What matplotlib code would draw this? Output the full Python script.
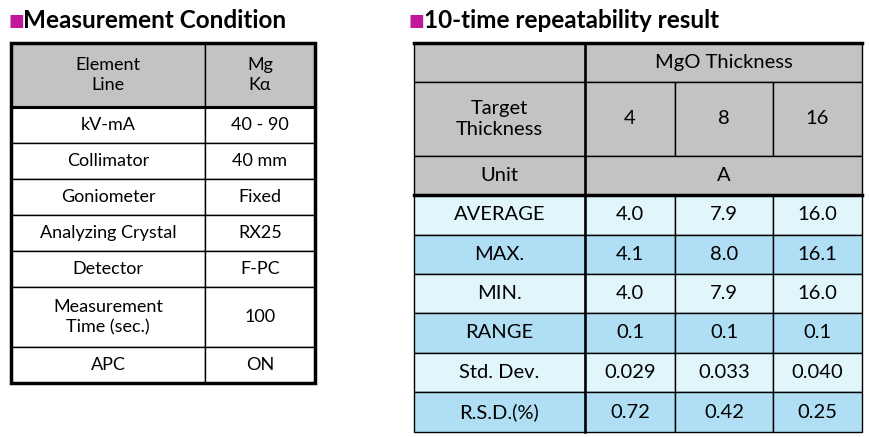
import matplotlib
matplotlib.use('Agg')
import matplotlib.pyplot as plt
from matplotlib.patches import Rectangle

# left table data
cond_labels = ['Element\nLine', 'kV-mA', 'Collimator', 'Goniometer',
               'Analyzing Crystal', 'Detector', 'Measurement\nTime (sec.)', 'APC']
cond_values = ['Mg\nK\u03b1', '40 - 90', '40 mm', 'Fixed', 'RX25', 'F-PC', '100', 'ON']

# right table data
thickness_targets = ['4', '8', '16']
unit = 'A'
stat_names = ['AVERAGE', 'MAX.', 'MIN.', 'RANGE', 'Std. Dev.', 'R.S.D.(%)']
stat_values = [
    ['4.0', '7.9', '16.0'],
    ['4.1', '8.0', '16.1'],
    ['4.0', '7.9', '16.0'],
    ['0.1', '0.1', '0.1'],
    ['0.029', '0.033', '0.040'],
    ['0.72', '0.42', '0.25'],
]

GRAY = '#c3c3c3'
LIGHT = '#e1f6fb'
BLUE = '#b0def4'
FONT = 'Lato'

fig = plt.figure(figsize=(8.7, 4.37), dpi=100)
ax = fig.add_axes([0, 0, 1, 1])
ax.set_xlim(0, 870)
ax.set_ylim(437, 0)
ax.axis('off')


def cell(x0, y0, x1, y1, text, color, lw=1.0, size=14.5):
    ax.add_patch(Rectangle((x0, y0), x1 - x0, y1 - y0, facecolor=color,
                           edgecolor='black', linewidth=lw))
    ax.text((x0 + x1) / 2, (y0 + y1) / 2, text, ha='center', va='center',
            fontsize=size, family=FONT, linespacing=1.3)


def title(x, y, text):
    ax.text(x, y, '\u25a0', color='#c0189a', fontsize=12, va='center', ha='left')
    ax.text(x + 15, y, text, fontsize=17.5, fontweight='bold', family=FONT,
            va='center', ha='left')


title(8, 21, 'Measurement Condition')
title(409, 21, '10-time repeatability result')

# left table
lx = [11, 205, 315]
ly = [43, 107, 143, 179, 215, 251, 287, 347, 383]
for i, (lab, val) in enumerate(zip(cond_labels, cond_values)):
    col = GRAY if i == 0 else 'white'
    cell(lx[0], ly[i], lx[1], ly[i + 1], lab, col, size=13)
    cell(lx[1], ly[i], lx[2], ly[i + 1], val, col, size=13)
ax.add_patch(Rectangle((lx[0], ly[0]), lx[2] - lx[0], ly[-1] - ly[0],
                       fill=False, edgecolor='black', linewidth=2.5))
ax.plot([lx[0], lx[2]], [ly[1], ly[1]], color='black', lw=2.2)

# right table
rx = [414, 585, 675, 773, 862]
ry = [43, 82, 156, 195, 235, 274, 313, 353, 392, 432]
cell(rx[0], ry[0], rx[1], ry[1], '', GRAY)
cell(rx[1], ry[0], rx[4], ry[1], 'MgO Thickness', GRAY)
cell(rx[0], ry[1], rx[1], ry[2], 'Target\nThickness', GRAY)
for j, t in enumerate(thickness_targets):
    cell(rx[j + 1], ry[1], rx[j + 2], ry[2], t, GRAY)
cell(rx[0], ry[2], rx[1], ry[3], 'Unit', GRAY)
cell(rx[1], ry[2], rx[4], ry[3], unit, GRAY)
for i, (name, vals) in enumerate(zip(stat_names, stat_values)):
    col = LIGHT if i % 2 == 0 else BLUE
    cell(rx[0], ry[i + 3], rx[1], ry[i + 4], name, col)
    for j, v in enumerate(vals):
        cell(rx[j + 1], ry[i + 3], rx[j + 2], ry[i + 4], v, col)
ax.plot([rx[0], rx[4]], [ry[0], ry[0]], color='black', lw=2.5)
ax.plot([rx[0], rx[4]], [ry[3], ry[3]], color='black', lw=2.5)
ax.plot([rx[1], rx[1]], [ry[0], ry[-1]], color='black', lw=1.8)

fig.savefig('out.png', dpi=100)
